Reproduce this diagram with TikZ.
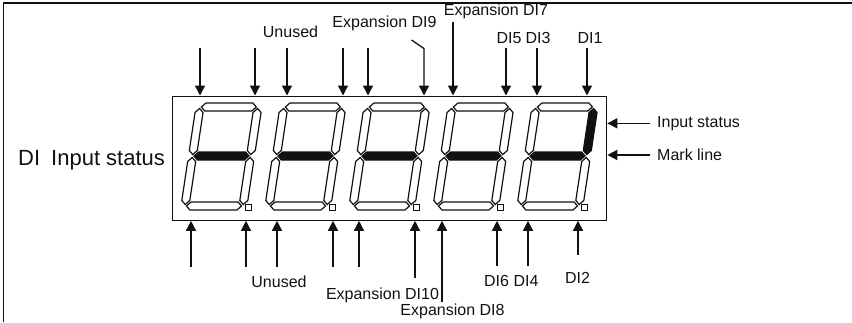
\documentclass[tikz,border=0pt]{standalone}
\usepackage{fontspec}
\setmainfont{Liberation Sans}
\usetikzlibrary{arrows.meta,positioning}
\definecolor{ink}{HTML}{111111}

\tikzset{
  sig/.style={ink, line width=1.3pt, -{Triangle[length=10pt,width=10pt]}},
  seg/.style={ink, line width=1.2pt, fill=white, line join=miter},
  segon/.style={seg, fill=ink},
  lbl/.style={ink, font=\fontsize{16}{18}\selectfont, anchor=base, inner sep=0pt},
}

% one segment of a digit, local units, y upwards
\newcommand{\segH}[2]{\draw[#1] (1.5,#2) -- (5.5,#2+4) -- (52.5,#2+4) -- (56.5,#2) -- (52.5,#2-4) -- (5.5,#2-4) -- cycle;}
\newcommand{\segV}[4]{\draw[#1] (#2,#3+1.5) -- (#2+4,#3+5.5) -- (#2+4,#4-5.5) -- (#2,#4-1.5) -- (#2-4,#4-5.5) -- (#2-4,#3+5.5) -- cycle;}

\begin{document}
\begin{tikzpicture}[x=1pt,y=-1pt]
  \useasboundingbox (0,0) rectangle (852,322);

  % Display panel
  \node[draw=ink, line width=1.3pt, inner sep=0pt, minimum width=434pt, minimum height=124pt, anchor=north west] (panel) at (172,95.5) {};

  % Five digits
  \foreach \d in {0,...,4} {
    \begin{scope}[shift={(185+84*\d,206)}, y=1pt, xslant=0.15]
      \segH{seg}{0}
      \segH{seg}{99}
      \segH{segon}{50}
      \segV{seg}{0}{0}{50}
      \segV{seg}{0}{50}{99}
      \segV{seg}{58}{0}{50}
      \ifnum\d=4 \segV{segon}{58}{50}{99} \else \segV{seg}{58}{50}{99} \fi
    \end{scope}
    \draw[ink, line width=0.9pt] (245+84*\d,204) rectangle ++(6,6);
  }

  % Top arrows
  \foreach \x/\y [count=\i] in {200/48, 255/48, 287/48, 343/48, 368/48, 453/22, 506/48, 537/48, 587/48} {
    \coordinate (t\i) at (\x,\y);
    \draw[sig] (t\i) -- (t\i |- panel.north);
  }
  \coordinate (hk) at (411.5,40);
  \coordinate (hkb) at (424,48.5);
  \draw[sig] (hk) -- (hkb) -- (hkb |- panel.north);

  % Bottom arrows
  \foreach \x/\y [count=\i] in {191/267, 246/267, 277/267, 333/267, 359/267, 415/278, 442/302, 497/266, 528/266, 578/255} {
    \coordinate (b\i) at (\x,\y);
    \draw[sig] (b\i) -- (b\i |- panel.south);
  }

  % Labels
  \node[lbl] (unused1) at (290.5,37.3) {Unused};
  \node[lbl] (exdi9) at (384.5,27.3) {Expansion DI9};
  \node[lbl] (exdi7) at (496,15) {Expansion DI7};
  \node[lbl] (di5) at (509,43.3) {DI5};
  \node[lbl] (di3) at (538,43.3) {DI3};
  \node[lbl] (di1) at (590,43.3) {DI1};
  \node[lbl] (unused2) at (279,287.3) {Unused};
  \node[lbl] (exdi10) at (382.5,299) {Expansion DI10};
  \node[lbl] (exdi8) at (452.5,315) {Expansion DI8};
  \node[lbl] (di6) at (496.5,286.7) {DI6};
  \node[lbl] (di4) at (526,286.7) {DI4};
  \node[lbl] (di2) at (577.5,283) {DI2};

  % Right side
  \node[lbl, anchor=west, inner xsep=7pt] (instat) at (650,123.3) {Input status};
  \node[lbl, anchor=west, inner xsep=7pt] (mark) at (650,155) {Mark line};
  \draw[sig] (instat.west) -- (instat.west -| panel.east);
  \draw[sig] (mark.west) -- (mark.west -| panel.east);

  % Left title
  \node[ink, font=\fontsize{22}{26}\selectfont, anchor=base west, inner sep=0pt] (title) at (18,165) {DI\hspace{0.5em}Input status};

  % Frame edges
  \draw[ink, line width=1.6pt] (3.5,322) -- (3.5,3) -- (852,3);
\end{tikzpicture}
\end{document}
